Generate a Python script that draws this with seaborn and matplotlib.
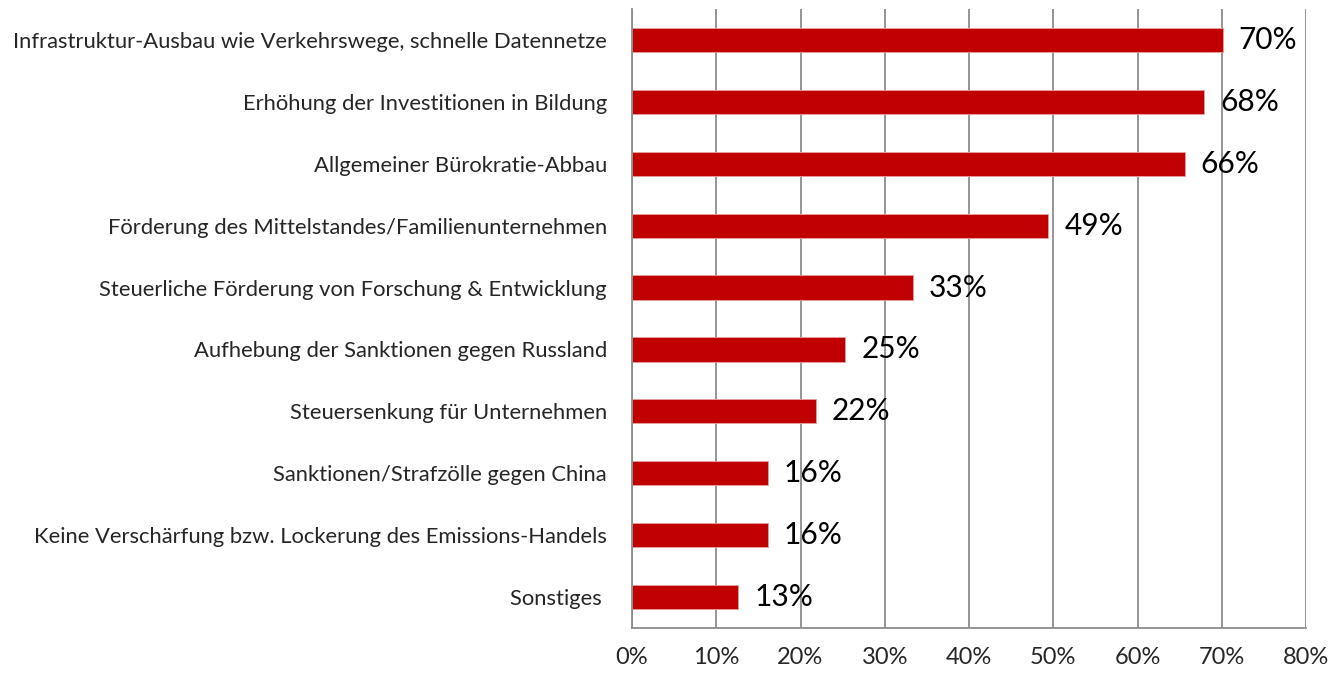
import matplotlib.pyplot as plt
import pandas as pd
import seaborn as sns
import numpy as np

# Share of respondents per measure (in %)
measures = [
    'Infrastruktur-Ausbau wie Verkehrswege, schnelle Datennetze',
    'Erhöhung der Investitionen in Bildung',
    'Allgemeiner Bürokratie-Abbau',
    'Förderung des Mittelstandes/Familienunternehmen',
    'Steuerliche Förderung von Forschung & Entwicklung',
    'Aufhebung der Sanktionen gegen Russland',
    'Steuersenkung für Unternehmen',
    'Sanktionen/Strafzölle gegen China',
    'Keine Verschärfung bzw. Lockerung des Emissions-Handels',
    'Sonstiges ',
]
shares = [70.1, 67.9, 65.6, 49.4, 33.3, 25.3, 21.8, 16.1, 16.1, 12.6]
x_ticks = [0, 10, 20, 30, 40, 50, 60, 70, 80]

df = pd.DataFrame({'measure': measures, 'share': shares})

sns.set_style('white')
plt.rcParams['font.family'] = ['Lato', 'DejaVu Sans']

fig = plt.figure(figsize=(13.32, 6.73), dpi=100)
ax = fig.add_axes([632 / 1332, 1 - 628 / 673, (1306 - 632) / 1332, (628 - 9) / 673])

grid_col = '#8c8c8c'
ax.set_axisbelow(True)
ax.grid(axis='x', color=grid_col, linewidth=1.3)

sns.barplot(data=df, x='share', y='measure', orient='h', color='#C00000',
            saturation=1, width=0.39, ax=ax, edgecolor='#e6a0a0', linewidth=0.6)

for i, v in enumerate(shares):
    ax.text(v + 1.9, i, f'{round(v)}%', va='center', ha='left', fontsize=21.5, color='black')

ax.set_xlim(0, 80)
ax.set_ylim(len(measures) - 0.5, -0.5)
ax.set_xticks(x_ticks)
ax.set_xticklabels([f'{t}%' for t in x_ticks], fontsize=17)
ax.set_xlabel('')
ax.set_ylabel('')

# category labels without ticks, ticks at the category boundaries
ax.tick_params(axis='y', which='major', length=0, pad=18, labelsize=15.8)
ax.set_yticks(np.arange(len(measures) + 1) - 0.5, minor=True)
ax.tick_params(axis='y', which='minor', length=6, width=1.3, color=grid_col, direction='out')
ax.tick_params(axis='x', which='major', length=6, width=1.3, color=grid_col, direction='out', pad=8)

for side in ['top', 'right']:
    ax.spines[side].set_visible(False)
for side in ['left', 'bottom']:
    ax.spines[side].set_color(grid_col)
    ax.spines[side].set_linewidth(1.3)

fig.savefig('out.png', dpi=100)
